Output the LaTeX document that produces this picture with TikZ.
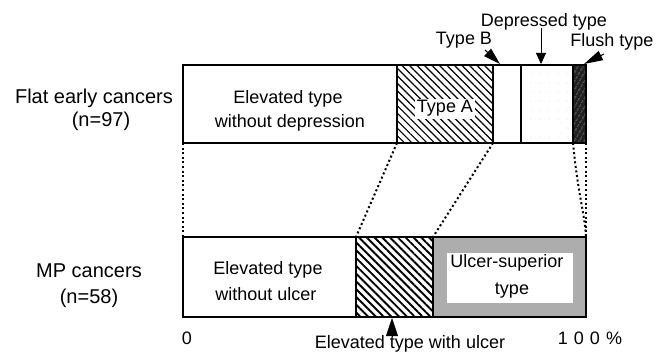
\documentclass[tikz,border=0pt]{standalone}
\usepackage{fontspec}
\setmainfont{Liberation Sans}
\usetikzlibrary{patterns.meta,arrows.meta}
\begin{document}
\begin{tikzpicture}[x=1pt,y=-1pt,
  bar/.style={draw=black,line width=2pt},
  conn/.style={line width=2pt,dash pattern=on 2pt off 2.6pt},
  lbl/.style={font=\fontsize{18}{20}\selectfont, inner sep=0pt, anchor=base},
  side/.style={font=\fontsize{20}{22}\selectfont, inner sep=0pt, anchor=base},
  pointer/.style={line width=1pt,-{Triangle[length=#1,width=10pt]}},
  pointer/.default=12pt]
\useasboundingbox (0,0) rectangle (657,353);
% top bar coordinates
\coordinate (t0) at (183,65);  \coordinate (b0) at (183,143);
\coordinate (t1) at (397,65);  \coordinate (b1) at (397,143);
\coordinate (t2) at (493,65);  \coordinate (b2) at (493,143);
\coordinate (t3) at (521,65);  \coordinate (b3) at (521,143);
\coordinate (t4) at (573,65);  \coordinate (b4) at (573,143);
\coordinate (t5) at (586,65);  \coordinate (b5) at (586,143);
% bottom bar coordinates
\coordinate (u0) at (183,237); \coordinate (l0) at (183,317);
\coordinate (u1) at (356,237); \coordinate (l1) at (356,317);
\coordinate (u2) at (433,237); \coordinate (l2) at (433,317);
\coordinate (u3) at (586,237); \coordinate (l3) at (586,317);
% top fills
\path[pattern={Lines[angle=-45,distance=5.3pt,line width=1.2pt]}] (t1) rectangle (b2);
\path[pattern={Dots[distance=9pt,radius=0.45pt]}, pattern color=gray!70] (t3) rectangle (b4);
\fill[black!88] (t4) rectangle (b5);
\path[pattern={Lines[angle=60,distance=4pt,line width=0.5pt]}, pattern color=gray!55] (t4) rectangle (b5);
\draw[bar] (t0) rectangle (b5);
\draw[bar] (t1) -- (b1) (t2) -- (b2) (t3) -- (b3) (t4) -- (b4);
% bottom fills
\path[pattern={Lines[angle=-45,distance=5.5pt,line width=1.9pt]}] (u1) rectangle (l2);
\fill[black!32] (u2) rectangle (l3);
\fill[white] (447,253) rectangle (573,303);
\draw[bar] (u0) rectangle (l3);
\draw[bar] (u1) -- (l1) (u2) -- (l2);
% connectors
\draw[conn] (b0) -- (u0);
\draw[conn] (b1) -- (u1);
\draw[conn] (b2) -- (u2);
\draw[conn] (b4) .. controls (578,195) and (585,215) .. (u3);
\draw[conn] (b5) -- (u3);
% side labels
\node[side] (flat) at (94,104) {Flat early cancers};
\node[side] (n97) at (101,127) {(n=97)};
\node[side] (mp) at (89,277) {MP cancers};
\node[side] (n58) at (89,303) {(n=58)};
% top bar labels
\node[lbl] (ev1) at (288,103) {Elevated type};
\node[lbl] (ev2) at (290,128) {without depression};
\node[lbl, fill=white, inner sep=2pt] (ta) at (445,113) {Type A};
\node[lbl] (tb) at (464,45) {Type B};
\node[lbl] (dep) at (544,27) {Depressed type};
\node[lbl] (fl) at (612,47) {Flush type};
% bottom bar labels
\node[lbl] (ev3) at (268,274) {Elevated type};
\node[lbl] (ev4) at (266,300) {without ulcer};
\node[lbl] (us1) at (507,267) {Ulcer-superior};
\node[lbl] (us2) at (512,294) {type};
\node[lbl] (zero) at (187,344) {0};
\node[lbl] (hund) at (590,344) {1\hspace{6pt}0\hspace{6pt}0\hspace{6pt}\%};
\node[lbl] (evu) at (410,348) {Elevated type with ulcer};
% pointers
\coordinate (pB) at (500,64);  \coordinate (sB) at (485,50);
\coordinate (pD) at (541,64);  \coordinate (sD) at (541,28);
\coordinate (pF) at (584,64);  \coordinate (sF) at (604,54);
\coordinate (pU) at (392,318); \coordinate (sU) at (392,336);
\draw[pointer=17pt] (sB) -- (pB);
\draw[pointer=11pt] (sD) -- (pD);
\draw[pointer=19pt] (sF) -- (pF);
\draw[line width=0.5pt,-{Triangle[length=18pt,width=12pt]}] (sU) -- (pU);
\end{tikzpicture}
\end{document}
